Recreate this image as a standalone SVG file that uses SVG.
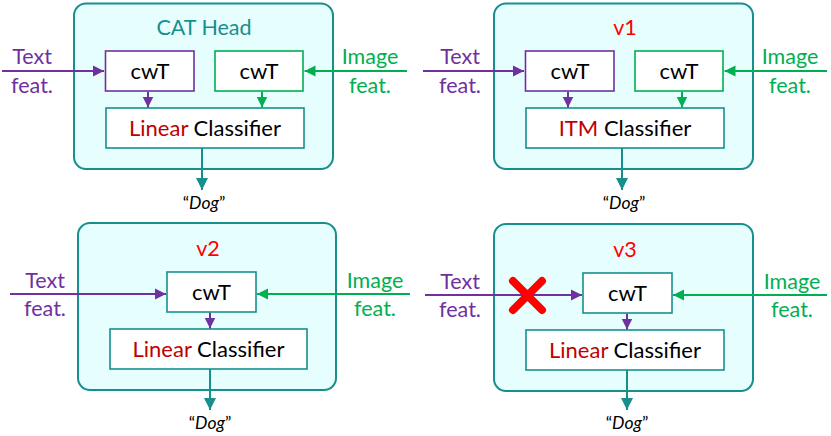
<svg xmlns="http://www.w3.org/2000/svg" width="831" height="436" viewBox="0 0 831 436">
<defs>
<style>
text{font-family:Lato,"Open Sans","Liberation Sans",sans-serif;}
.panel{fill:#E6FEFE;stroke:#16908F;stroke-width:2;}
.box{fill:#FFFFFF;stroke-width:1.6;}
.bt{stroke:#16908F;}
.bp{stroke:#7030A0;}
.bg{stroke:#00B050;}
.title{font-size:21.5px;text-anchor:middle;}
.lbl{font-size:21.5px;text-anchor:middle;}
.in{font-size:22px;text-anchor:middle;fill:#000;}
.dog{font-size:17.5px;text-anchor:middle;fill:#000;}
.lp{stroke:#7030A0;stroke-width:2;fill:none;marker-end:url(#ap);}
.lg{stroke:#00B050;stroke-width:2;fill:none;marker-end:url(#ag);}
.lt{stroke:#16908F;stroke-width:2;fill:none;marker-end:url(#at);}
</style>
<marker id="ap" markerUnits="userSpaceOnUse" viewBox="0 0 10 10" refX="10" refY="5" markerWidth="11" markerHeight="12" orient="auto"><path d="M0,0 L10,5 L0,10 z" fill="#7030A0"/></marker>
<marker id="ag" markerUnits="userSpaceOnUse" viewBox="0 0 10 10" refX="10" refY="5" markerWidth="11" markerHeight="12" orient="auto"><path d="M0,0 L10,5 L0,10 z" fill="#00B050"/></marker>
<marker id="at" markerUnits="userSpaceOnUse" viewBox="0 0 10 10" refX="10" refY="5" markerWidth="12" markerHeight="13" orient="auto"><path d="M0,0 L10,5 L0,10 z" fill="#16908F"/></marker>
</defs>

<!-- Panel 1: CAT Head -->
<g id="panel-cat">
<rect class="panel" x="74" y="3.5" width="259" height="165.5" rx="12"/>
<text class="title" x="204" y="35" fill="#16908F">CAT Head</text>
</g>
<g id="cat-cwt-text"><rect class="box bp" x="105.5" y="51" width="88.5" height="40"/><text class="in" x="150" y="79">cwT</text></g>
<g id="cat-cwt-image"><rect class="box bg" x="215" y="51" width="88" height="40"/><text class="in" x="259" y="79">cwT</text></g>
<g id="cat-classifier"><rect class="box bt" x="106" y="108" width="198" height="40"/><text class="in" x="205" y="136"><tspan fill="#C00000">Linear</tspan> Classifier</text></g>
<g id="cat-text-label"><text class="lbl" x="32" y="64" fill="#7030A0">Text</text><text class="lbl" x="32" y="93" fill="#7030A0">feat.</text></g>
<g id="cat-image-label"><text class="lbl" x="370" y="64" fill="#00B050">Image</text><text class="lbl" x="370" y="93" fill="#00B050">feat.</text></g>
<g id="cat-output"><text class="dog" x="204" y="209">“<tspan font-style="italic">Dog</tspan>”</text></g>

<!-- Panel 2: v1 -->
<g id="panel-v1">
<rect class="panel" x="494" y="3.5" width="259" height="165.5" rx="12"/>
<text class="title" x="625" y="35" fill="#FF0000">v1</text>
</g>
<g id="v1-cwt-text"><rect class="box bp" x="525.5" y="51" width="88.5" height="40"/><text class="in" x="570" y="79">cwT</text></g>
<g id="v1-cwt-image"><rect class="box bg" x="635" y="51" width="88" height="40"/><text class="in" x="679" y="79">cwT</text></g>
<g id="v1-classifier"><rect class="box bt" x="526" y="108" width="198" height="40"/><text class="in" x="625" y="136"><tspan fill="#C00000">ITM</tspan> Classifier</text></g>
<g id="v1-text-label"><text class="lbl" x="460" y="64" fill="#7030A0">Text</text><text class="lbl" x="460" y="93" fill="#7030A0">feat.</text></g>
<g id="v1-image-label"><text class="lbl" x="790" y="64" fill="#00B050">Image</text><text class="lbl" x="790" y="93" fill="#00B050">feat.</text></g>
<g id="v1-output"><text class="dog" x="624" y="209">“<tspan font-style="italic">Dog</tspan>”</text></g>

<!-- Panel 3: v2 -->
<g id="panel-v2">
<rect class="panel" x="78" y="223" width="258" height="167" rx="12"/>
<text class="title" x="208" y="256" fill="#FF0000">v2</text>
</g>
<g id="v2-cwt"><rect class="box bt" x="167" y="272" width="89" height="40"/><text class="in" x="211.5" y="300">cwT</text></g>
<g id="v2-classifier"><rect class="box bt" x="110" y="329" width="197" height="40"/><text class="in" x="208.5" y="357"><tspan fill="#C00000">Linear</tspan> Classifier</text></g>
<g id="v2-text-label"><text class="lbl" x="45" y="288" fill="#7030A0">Text</text><text class="lbl" x="45" y="316" fill="#7030A0">feat.</text></g>
<g id="v2-image-label"><text class="lbl" x="375" y="288" fill="#00B050">Image</text><text class="lbl" x="375" y="316" fill="#00B050">feat.</text></g>
<g id="v2-output"><text class="dog" x="210" y="429">“<tspan font-style="italic">Dog</tspan>”</text></g>

<!-- Panel 4: v3 -->
<g id="panel-v3">
<rect class="panel" x="494" y="224" width="259" height="167" rx="12"/>
<text class="title" x="625" y="257" fill="#FF0000">v3</text>
</g>
<g id="v3-cwt"><rect class="box bt" x="583" y="273" width="89" height="40"/><text class="in" x="627.5" y="301">cwT</text></g>
<g id="v3-classifier"><rect class="box bt" x="526" y="330" width="198" height="40"/><text class="in" x="625" y="358"><tspan fill="#C00000">Linear</tspan> Classifier</text></g>
<g id="v3-text-label"><text class="lbl" x="460" y="289" fill="#7030A0">Text</text><text class="lbl" x="460" y="317" fill="#7030A0">feat.</text></g>
<g id="v3-image-label"><text class="lbl" x="792" y="289" fill="#00B050">Image</text><text class="lbl" x="792" y="317" fill="#00B050">feat.</text></g>
<g id="v3-output"><text class="dog" x="627" y="429">“<tspan font-style="italic">Dog</tspan>”</text></g>

<g id="connectors">
<!-- panel 1 -->
<line class="lp" x1="2" y1="71" x2="104" y2="71"/>
<line class="lg" x1="407" y1="71" x2="304.5" y2="71"/>
<line class="lp" x1="148" y1="91.8" x2="148" y2="107.5"/>
<line class="lg" x1="262" y1="91.8" x2="262" y2="107.5"/>
<line class="lt" x1="202" y1="148" x2="202" y2="190"/>
<!-- panel 2 -->
<line class="lp" x1="423" y1="71" x2="524" y2="71"/>
<line class="lg" x1="827" y1="71" x2="724.5" y2="71"/>
<line class="lp" x1="568" y1="91.8" x2="568" y2="107.5"/>
<line class="lg" x1="682" y1="91.8" x2="682" y2="107.5"/>
<line class="lt" x1="622" y1="148" x2="622" y2="190"/>
<!-- panel 3 -->
<line class="lp" x1="10" y1="294" x2="166" y2="294"/>
<line class="lg" x1="410" y1="294" x2="257" y2="294"/>
<line class="lp" x1="210" y1="312.8" x2="210" y2="328.5"/>
<line class="lt" x1="210" y1="369" x2="210" y2="410"/>
<!-- panel 4 -->
<line class="lp" x1="425" y1="295" x2="582" y2="295"/>
<line class="lg" x1="827" y1="295" x2="673" y2="295"/>
<line class="lp" x1="627" y1="313.8" x2="627" y2="329.5"/>
<line class="lt" x1="627" y1="370" x2="627" y2="410"/>
</g>

<g id="v3-cross">
<path d="M513,281 L542,310 M542,281 L513,310" stroke="#FF0000" stroke-width="8" stroke-linecap="round" fill="none"/>
</g>
</svg>
